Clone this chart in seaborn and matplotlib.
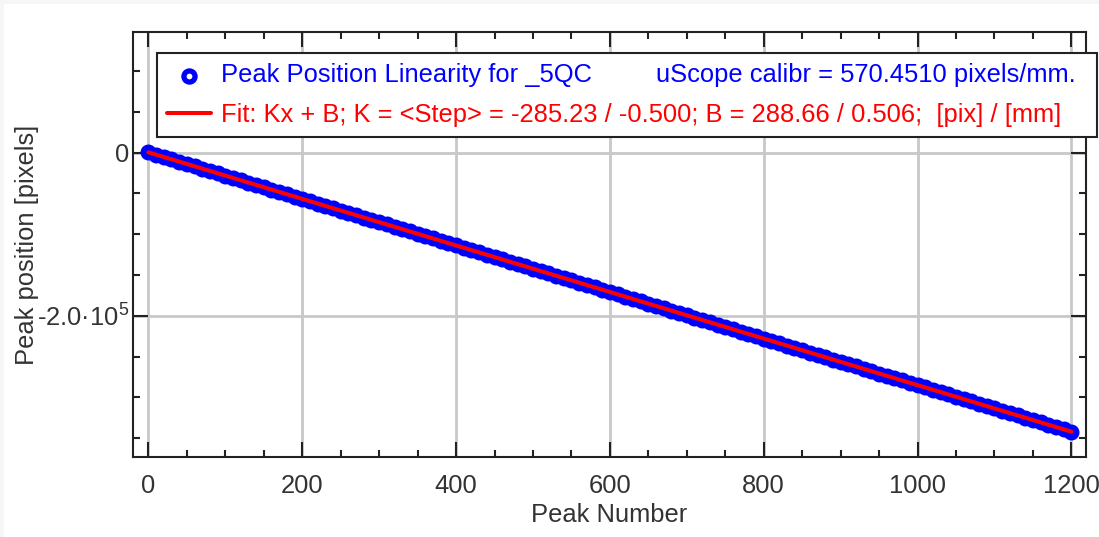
import numpy as np
import matplotlib
matplotlib.use('Agg')
import matplotlib.pyplot as plt
import matplotlib.ticker as mticker
from matplotlib.patches import Rectangle
import seaborn as sns

# ── Data ─────────────────────────────────────────────────────────────────────
# peak number, sampled every 10 peaks
peak_number = list(range(0, 1201, 10))
# peak position [pixels] at those peak numbers
peak_position = [
    300, -2600, -5400, -8300, -11100, -14000, -16800, -19700, -22500, -25400,
    -28200, -31100, -33900, -36800, -39600, -42500, -45300, -48200, -51100, -53900,
    -56800, -59600, -62500, -65300, -68200, -71000, -73900, -76700, -79600, -82400,
    -85300, -88100, -91000, -93800, -96700, -99500, -102400, -105200, -108100, -111000,
    -113800, -116700, -119500, -122400, -125200, -128100, -130900, -133800, -136600, -139500,
    -142300, -145200, -148000, -150900, -153700, -156600, -159400, -162300, -165100, -168000,
    -170800, -173700, -176600, -179400, -182300, -185100, -188000, -190800, -193700, -196500,
    -199400, -202200, -205100, -207900, -210800, -213600, -216500, -219300, -222200, -225000,
    -227900, -230700, -233600, -236500, -239300, -242200, -245000, -247900, -250700, -253600,
    -256400, -259300, -262100, -265000, -267800, -270700, -273500, -276400, -279200, -282100,
    -284900, -287800, -290600, -293500, -296400, -299200, -302100, -304900, -307800, -310600,
    -313500, -316300, -319200, -322000, -324900, -327700, -330600, -333400, -336300, -339100,
    -342000,
]
# linear fit, endpoints
fit_x = [0, 1200]
fit_y = [300, -342000]

series_label = "Peak Position Linearity for _5QC" + " " * 9 + "uScope calibr = 570.4510 pixels/mm."
fit_label = "Fit: Kx + B; K = <Step> = -285.23 / -0.500; B = 288.66 / 0.506;  [pix] / [mm]"

# ── Style ────────────────────────────────────────────────────────────────────
sns.set_style("ticks")
plt.rcParams['font.family'] = ['Liberation Sans', 'DejaVu Sans']
plt.rcParams['mathtext.fontset'] = 'custom'
plt.rcParams['mathtext.rm'] = 'Liberation Sans'
plt.rcParams['mathtext.it'] = 'Liberation Sans'
FS = 18.4
TXT = '#333333'
BLUE, RED = '#0000ff', '#ff0000'

W, H = 1099, 537
fig = plt.figure(figsize=(W / 100, H / 100), dpi=100, facecolor='#f6f6f6')
fig.patches.append(Rectangle((4 / W, 0), 1, 1 - 4 / H, transform=fig.transFigure,
                             facecolor='white', edgecolor='none', zorder=-1))
ax = fig.add_axes([133 / W, 1 - 457 / H, (1086 - 133) / W, (457 - 32) / H])

# dense hollow circles merge into a solid band
sns.scatterplot(x=peak_number, y=peak_position, ax=ax, marker='o', s=100,
                facecolor=BLUE, edgecolor=BLUE, linewidth=1.5,
                label=series_label, zorder=3)
sns.lineplot(x=fit_x, y=fit_y, ax=ax, color=RED, linewidth=2.9,
             label=fit_label, zorder=4)

ax.set_xlim(-20, 1219)
ax.set_ylim(-373000, 147700)

ax.xaxis.set_major_locator(mticker.MultipleLocator(200))
ax.xaxis.set_minor_locator(mticker.MultipleLocator(50))
ax.yaxis.set_major_locator(mticker.MultipleLocator(200000))
ax.yaxis.set_minor_locator(mticker.MultipleLocator(50000))


def yfmt(v, pos):
    if abs(v) < 1:
        return "0"
    return "%.1f·$10^{%d}$" % (v / 1e5, 5)


ax.yaxis.set_major_formatter(mticker.FuncFormatter(yfmt))
ax.xaxis.set_major_formatter(mticker.FuncFormatter(lambda v, p: "%d" % v))

ax.grid(True, which='major', color='#c8c8c8', linewidth=2, zorder=0)
ax.set_axisbelow(True)
for sp in ax.spines.values():
    sp.set_linewidth(1.5)
    sp.set_color('#222222')
ax.tick_params(which='both', direction='in', top=True, right=True,
               width=1.5, color='#222222', labelcolor=TXT, labelsize=FS)
ax.tick_params(which='major', length=11)
ax.tick_params(which='minor', length=5)
ax.tick_params(axis='x', which='major', pad=12)
ax.tick_params(axis='y', which='major', pad=3)

ax.set_xlabel("Peak Number", fontsize=FS, color=TXT, labelpad=4)
ax.set_ylabel("Peak position [pixels]", fontsize=FS, color=TXT, labelpad=-1.6)

# legend box spans 157..1097 px across, top at 53 px
leg = ax.legend(loc='upper left',
                bbox_to_anchor=(157 / W, 1 - 133 / H, (1097 - 157) / W, (133 - 53) / H),
                bbox_transform=fig.transFigure, borderaxespad=0, mode='expand',
                fontsize=FS, labelcolor=[BLUE, RED],
                frameon=True, fancybox=False, framealpha=1,
                edgecolor='#222222', handlelength=1.7, handletextpad=0.4,
                borderpad=0.4, labelspacing=0.6, markerscale=0.8)
leg.get_frame().set_linewidth(1.5)
mk = leg.legend_handles[0]
mk.set_facecolor('white')     # single marker shows hollow
mk.set_linewidth(3.8)
leg.set_zorder(10)

fig.savefig("out.png", dpi=100)
